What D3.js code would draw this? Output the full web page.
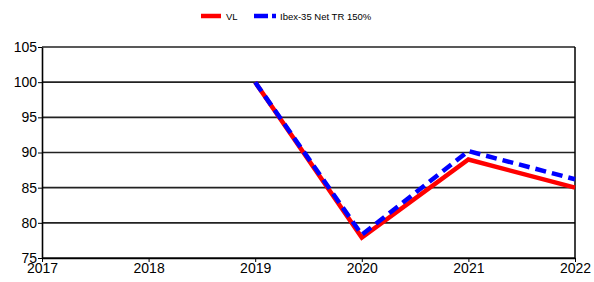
<!DOCTYPE html>
<html>
<head>
<meta charset="utf-8">
<script src="https://cdn.jsdelivr.net/npm/d3@7"></script>
<style>
  body { margin: 0; background: #fff; }
  svg { display: block; font-family: "Liberation Sans", Arial, sans-serif; }
</style>
</head>
<body>
<script>
const years = [2017, 2018, 2019, 2020, 2021, 2022];
const yTicks = [75, 80, 85, 90, 95, 100, 105];
const vlYears = [2019, 2020, 2021, 2022];
const vlValues = [100, 77.9, 89.0, 85.0];
const ibexValues = [100, 78.3, 90.2, 86.2];
const seriesNames = ['VL', 'Ibex-35 Net TR 150%'];

const width = 594, height = 282;
const svg = d3.select('body').append('svg')
  .attr('width', width).attr('height', height);

const x = d3.scaleLinear().domain([2017, 2022]).range([42, 575]);
const y = d3.scaleLinear().domain([75, 105]).range([258, 47]);

// horizontal grid
svg.append('g').selectAll('line').data(yTicks).join('line')
  .attr('x1', x(2017)).attr('x2', x(2022))
  .attr('y1', d => y(d)).attr('y2', d => y(d))
  .attr('stroke', '#222').attr('stroke-width', 1.6);

// right border
svg.append('line')
  .attr('x1', x(2022)).attr('x2', x(2022))
  .attr('y1', y(105)).attr('y2', y(75))
  .attr('stroke', '#000').attr('stroke-width', 1.5);

// axes
const axisY = d3.axisLeft(y).tickValues(yTicks).tickSize(4).tickSizeOuter(0);
const gy = svg.append('g').attr('transform', `translate(${x(2017)},0)`).call(axisY);
gy.select('.domain').attr('stroke', '#000').attr('stroke-width', 1.6);
gy.selectAll('.tick line').attr('stroke', '#000');
gy.selectAll('.tick text').attr('font-size', 14).attr('fill', '#000')
  .attr('font-family', '"Liberation Sans", Arial, sans-serif').attr('x', -5);

const axisX = d3.axisBottom(x).tickValues(years).tickFormat(d3.format('d')).tickSize(4).tickSizeOuter(0);
const gx = svg.append('g').attr('transform', `translate(0,${y(75)})`).call(axisX);
gx.select('.domain').attr('stroke', '#000').attr('stroke-width', 1.6);
gx.selectAll('.tick line').attr('stroke', '#000');
gx.selectAll('.tick text').attr('font-size', 14).attr('fill', '#000')
  .attr('font-family', '"Liberation Sans", Arial, sans-serif').attr('dy', '0.55em');

// series
const line = d3.line().x(d => x(d[0])).y(d => y(d[1]));
svg.append('path')
  .datum(d3.zip(vlYears, vlValues))
  .attr('d', line).attr('fill', 'none')
  .attr('stroke', '#ff0000').attr('stroke-width', 4.5);
svg.append('path')
  .datum(d3.zip(vlYears, ibexValues))
  .attr('d', line).attr('fill', 'none')
  .attr('stroke', '#0000ff').attr('stroke-width', 4.5)
  .attr('stroke-dasharray', '11 6');

// legend
const legend = svg.append('g').attr('font-size', 9.5);
legend.append('line').attr('x1', 201).attr('x2', 221).attr('y1', 16).attr('y2', 16)
  .attr('stroke', '#ff0000').attr('stroke-width', 4.5);
legend.append('text').attr('x', 226).attr('y', 19.5).text(seriesNames[0]);
legend.append('line').attr('x1', 254).attr('x2', 276).attr('y1', 16).attr('y2', 16)
  .attr('stroke', '#0000ff').attr('stroke-width', 4.5).attr('stroke-dasharray', '14 4');
legend.append('text').attr('x', 280).attr('y', 19.5).text(seriesNames[1]);
</script>
</body>
</html>
